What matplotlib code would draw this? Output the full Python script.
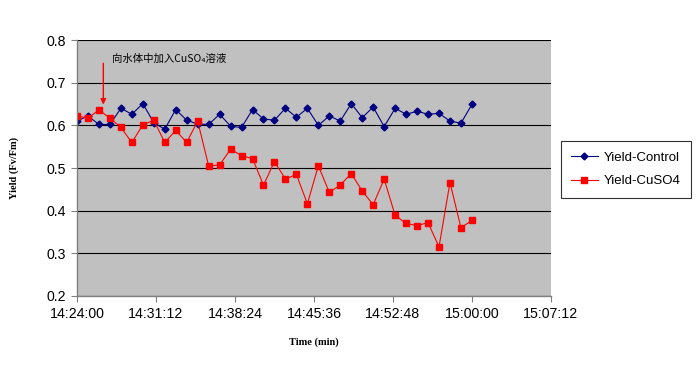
import numpy as np
import matplotlib
matplotlib.use('Agg')
import matplotlib.pyplot as plt
from matplotlib.ticker import MultipleLocator, FuncFormatter

# one reading per minute starting at 14:24:00
start_h, start_m = 14, 24
minutes = np.arange(37)

yield_control = [0.610, 0.622, 0.602, 0.602, 0.640, 0.626, 0.651, 0.606, 0.591, 0.637,
                 0.612, 0.603, 0.602, 0.626, 0.598, 0.595, 0.637, 0.615, 0.612, 0.640,
                 0.619, 0.640, 0.600, 0.622, 0.610, 0.651, 0.618, 0.643, 0.597, 0.640,
                 0.626, 0.633, 0.626, 0.628, 0.610, 0.605, 0.649]
yield_cuso4 = [0.622, 0.617, 0.636, 0.617, 0.595, 0.560, 0.601, 0.612, 0.560, 0.588,
               0.560, 0.610, 0.505, 0.507, 0.544, 0.529, 0.522, 0.460, 0.515, 0.474,
               0.485, 0.416, 0.505, 0.443, 0.460, 0.487, 0.446, 0.414, 0.474, 0.389,
               0.370, 0.365, 0.372, 0.315, 0.466, 0.360, 0.377]

note_text = '向水体中加入CuSO\u2084溶液'
note_minute = 2.4


def fmt_time(x, pos):
    total = int(round((start_h*60 + start_m + x)*60))
    h = total // 3600
    m = (total % 3600) // 60
    s = total % 60
    return '%d:%02d:%02d' % (h, m, s)


fig = plt.figure(figsize=(7, 3.75), dpi=100)
ax = fig.add_axes([0.110, 0.2107, 0.677, 0.6826])
ax.set_facecolor('#C0C0C0')

ax.plot(minutes, yield_control, '-', color='#000080', lw=0.8, marker='D', ms=3.5,
        mec='#000080', mfc='#000080', label='Yield-Control')
ax.plot(minutes, yield_cuso4, '-', color='#FF0000', lw=0.8, marker='s', ms=4.5,
        mec='#FF0000', mfc='#FF0000', label='Yield-CuSO4')

ax.set_xlim(0, 43.2)
ax.set_ylim(0.2, 0.8)
ax.xaxis.set_major_locator(MultipleLocator(7.2))
ax.xaxis.set_major_formatter(FuncFormatter(fmt_time))
ax.yaxis.set_major_locator(MultipleLocator(0.1))
ax.yaxis.set_major_formatter(FuncFormatter(lambda v, p: '%.1f' % v))

ax.grid(axis='y', color='black', lw=0.8)
ax.set_axisbelow(True)
for s in ['top', 'right']:
    ax.spines[s].set_visible(False)
for s in ['left', 'bottom']:
    ax.spines[s].set_color('#808080')
    ax.spines[s].set_linewidth(1.0)
ax.tick_params(direction='out', length=4, color='#808080', labelsize=10.2, pad=4)
for lab in ax.get_xticklabels() + ax.get_yticklabels():
    lab.set_family('Liberation Sans')

ax.set_xlabel('Time (min)', family='Liberation Serif', fontweight='bold', fontsize=7.5, labelpad=12)
ax.set_ylabel('Yield (Fv/Fm)', family='Liberation Serif', fontweight='bold', fontsize=7.5, labelpad=20)

ax.annotate('', xy=(note_minute, 0.642), xytext=(note_minute, 0.752),
            arrowprops=dict(arrowstyle='-|>', color='#FF0000', lw=1.0, mutation_scale=8))
ax.text(3.2, 0.755, note_text, family=['Noto Sans CJK SC', 'DejaVu Sans'], fontsize=7.5,
        va='center', ha='left')

leg = ax.legend(loc='upper left', bbox_to_anchor=(0.801, 0.624), bbox_transform=fig.transFigure,
                frameon=True, fancybox=False, edgecolor='black', handlelength=2.0,
                handletextpad=0.45, prop={'family': 'Liberation Sans', 'size': 9.5},
                borderpad=0.8, labelspacing=0.85, borderaxespad=0)
leg.get_frame().set_linewidth(0.8)

fig.savefig('out.png', dpi=100)
